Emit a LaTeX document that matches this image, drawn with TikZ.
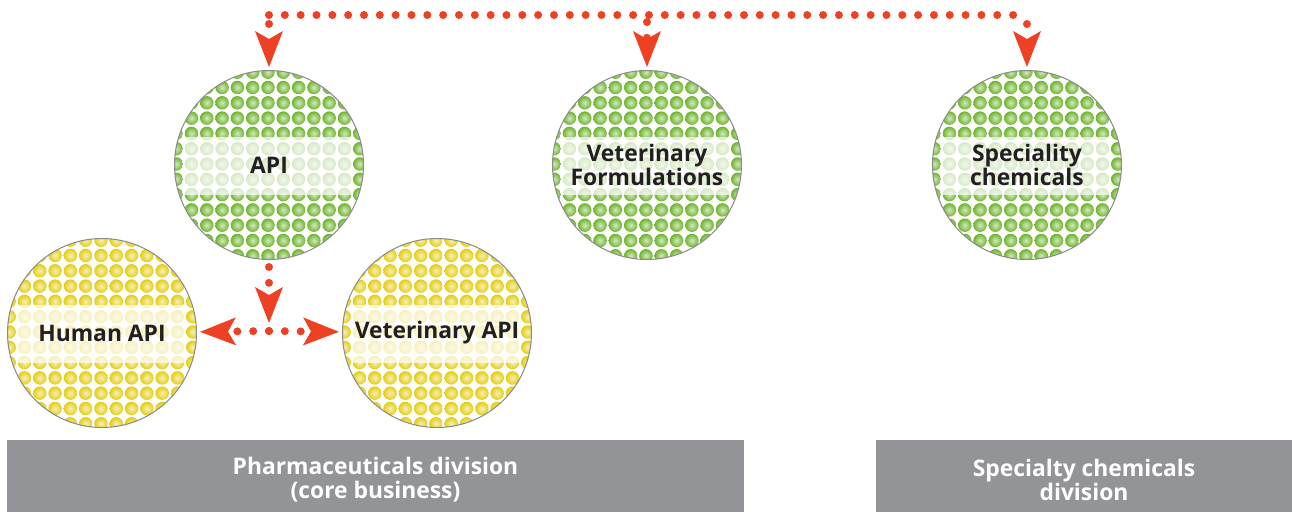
\documentclass[tikz,border=0pt]{standalone}
\usepackage{fontspec}
\setmainfont{Open Sans}
\usetikzlibrary{positioning,arrows.meta,calc,backgrounds}

\definecolor{arrowred}{RGB}{238,65,35}
\definecolor{boxgray}{RGB}{147,148,152}
\definecolor{leafgreen}{RGB}{110,180,45}
\definecolor{lemon}{RGB}{228,205,20}
\definecolor{ink}{RGB}{35,31,32}

\begin{document}
\begin{tikzpicture}[
        x=0.02cm, y=-0.02cm,
        bubble/.style={circle, draw=gray!90, line width=0.6pt, minimum size=3.78cm, inner sep=0pt, align=center, text=ink, font=\bfseries\fontsize{13}{13.6}\selectfont},
        division/.style={rectangle, fill=boxgray, text=white, align=center, minimum height=1.58cm, inner sep=0pt, font=\bfseries\fontsize{13}{13.6}\selectfont},
        link/.style={arrowred, line width=0.16cm, line cap=round, dash pattern=on 0pt off 0.3167cm},
        pointed/.style={-{Stealth[length=0.72cm, width=0.56cm, inset=0.16cm, line width=0pt]}}
    ]
        \useasboundingbox (0,0) rectangle (1292,511);

        \node[bubble] (api) at (269,165) {API};
        \node[bubble, right=3.76cm of api] (vetform) {Veterinary\\Formulations};
        \node[bubble, right=3.8cm of vetform] (spec) {Speciality\\chemicals};
        \node[bubble] (human) at (102,333) {Human API};
        \node[bubble, right=2.9cm of human] (vetapi) {Veterinary API};

        \node[division, minimum width=14.74cm] (pharma) at (375.5,479.5) {Pharmaceuticals division\\(core business)};
        \node[division, minimum width=8.32cm] (specdiv) at (1084,479.5) {Specialty chemicals\\division};

        \foreach \n/\c in {api/leafgreen, vetform/leafgreen, spec/leafgreen, human/lemon, vetapi/lemon}{
            \begin{scope}[on background layer]
                \begin{scope}
                    \clip (\n.center) circle (1.89cm);
                    \foreach \i in {-6,...,6}
                        \foreach \j in {-6,...,6}
                            \shade[inner color=\c!30!white, outer color=\c] ($(\n.center)+(\i*15.3-1,\j*15.3-1)$) circle (0.135cm);
                    \fill[white, opacity=0.72] ($(\n.center)+(-86,-28)$) rectangle ($(\n.center)+(84,30)$);
                \end{scope}
            \end{scope}
        }

        \path (api.center) ++(0,-150) coordinate (b1);
        \path (vetform.center) ++(0,-150) coordinate (b2);
        \path (spec.center) ++(0,-150) coordinate (b3);
        \path (api.center) ++(0,166) coordinate (hub);

        \draw[link] (b1) -- (b3);
        \draw[link, pointed, shorten <=0.18cm, shorten >=0.06cm] (b1) -- (api);
        \draw[link, pointed, shorten <=0.14cm, shorten >=0.06cm] (b2) -- (vetform);
        \draw[link, pointed, shorten <=0.18cm, shorten >=0.06cm] (b3) -- (spec);
        \draw[link, pointed, shorten <=0.14cm, shorten >=0.16cm] (api) -- (hub);
        \draw[link, pointed, shorten >=0.06cm] (hub) -- (human);
        \draw[link, pointed, shorten >=0.06cm] (hub) -- (vetapi);
    \end{tikzpicture}
\end{document}
